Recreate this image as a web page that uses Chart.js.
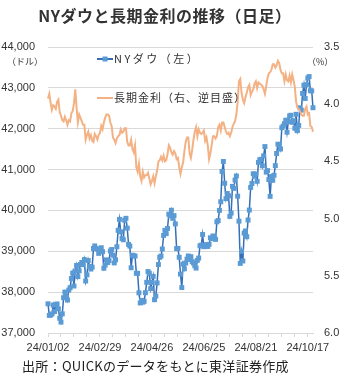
<!DOCTYPE html>
<html lang="ja">
<head>
<meta charset="UTF-8">
<title>NYダウと長期金利の推移（日足）</title>
<script src="https://cdn.jsdelivr.net/npm/chart.js"></script>
<style>
    body { margin: 0; background: #ffffff; }
    .wrap { position: relative; width: 340px; height: 384px; }
    .title {
        position: absolute; left: 0; top: 5px; width: 330px;
        text-align: center; font: bold 16px/20px 'Noto Sans CJK JP', sans-serif; color: #333333;
        letter-spacing: 0.5px;
    }
    .source {
        position: absolute; left: 22px; top: 357px;
        font: 13px/17px 'Noto Sans CJK JP', sans-serif; color: #222222;
        letter-spacing: 0.3px;
    }
    canvas { position: absolute; left: 0; top: 0; }
</style>
</head>
<body>
<div class="wrap">
    <canvas id="chart" width="340" height="384"></canvas>
    <div class="title">NYダウと長期金利の推移（日足）</div>
    <div class="source">出所：QUICKのデータをもとに東洋証券作成</div>
</div>

<script>
    // x = trading-day index from 2024/01/02; a label every 40 days
    const xLabels = ['24/01/02', '24/02/29', '24/04/26', '24/06/25', '24/08/21', '24/10/17'];
    const labelEvery = 40;

    // NYダウ終値 (ドル), by month
    const dowJan = [37715, 37431, 37440, 37466, 37683, 37526, 37696, 37711, 37593, 37361, 37267, 37469, 37864, 38001, 37906, 37807, 38050, 38109, 38333, 38467, 38150];
    const dowFeb = [38520, 38654, 38380, 38521, 38677, 38726, 38672, 38797, 38273, 38424, 38773, 38628, 38564, 38612, 39069, 39131, 39069, 39053, 38949, 38996];
    const dowMar = [39087, 38990, 38585, 38661, 38791, 38723, 38770, 39006, 39043, 38906, 38715, 38790, 39111, 39512, 39781, 39476, 39314, 39282, 39760, 39807];
    const dowApr = [39567, 39170, 39127, 38597, 38904, 38892, 38883, 38462, 38459, 37983, 37735, 37799, 37753, 37775, 37986, 38240, 38504, 38461, 38086, 38240, 38386, 37816];
    const dowMay = [37903, 38226, 38676, 38852, 38884, 39056, 39388, 39513, 39432, 39558, 39908, 39869, 40004, 39807, 39873, 39671, 39065, 39070, 38853, 38441, 38112, 38686];
    const dowJun = [38571, 38711, 38807, 38886, 38799, 38868, 38747, 38712, 38647, 38589, 38778, 38834, 39134, 39150, 39411, 39112, 39127, 39164, 39118];
    const dowJul = [39170, 39331, 39308, 39375, 39344, 39291, 39721, 39753, 40001, 40212, 40954, 41198, 40665, 40288, 40415, 40358, 39854, 39935, 40589, 40540, 40743, 40843];
    const dowAug = [40348, 39737, 38703, 38998, 38763, 39446, 39498, 39357, 39765, 40009, 40563, 40660, 40897, 40835, 40891, 40713, 41175, 41240, 41251, 41092, 41336, 41563];
    const dowSep = [40937, 40975, 40756, 40345, 40830, 40737, 40861, 41097, 41394, 41622, 41606, 41503, 42025, 42063, 42124, 42208, 41915, 42175, 42313, 42330];
    const dowOct = [42156, 42197, 42012, 42353, 41954, 42080, 42512, 42454, 42864, 43065, 42740, 43077, 43239, 43276, 42931, 42925, 42514];

    // 米10年債利回り (%), by month
    const ylJan = [3.95, 3.91, 3.99, 4.05, 4.01, 4.02, 4.04, 3.98, 3.96, 4.07, 4.10, 4.14, 4.15, 4.11, 4.14, 4.18, 4.14, 4.15, 4.08, 4.06, 3.99];
    const ylFeb = [3.87, 4.03, 4.16, 4.09, 4.12, 4.15, 4.18, 4.18, 4.31, 4.27, 4.24, 4.30, 4.27, 4.32, 4.33, 4.26, 4.28, 4.31, 4.27, 4.25];
    const ylMar = [4.19, 4.22, 4.16, 4.12, 4.09, 4.09, 4.10, 4.16, 4.19, 4.29, 4.31, 4.34, 4.30, 4.28, 4.27, 4.22, 4.25, 4.24, 4.21, 4.21];
    const ylApr = [4.33, 4.36, 4.36, 4.31, 4.39, 4.42, 4.36, 4.55, 4.59, 4.52, 4.63, 4.67, 4.59, 4.64, 4.62, 4.62, 4.60, 4.65, 4.70, 4.67, 4.63, 4.69];
    const ylMay = [4.63, 4.58, 4.50, 4.49, 4.46, 4.49, 4.45, 4.50, 4.49, 4.44, 4.36, 4.38, 4.42, 4.44, 4.41, 4.43, 4.48, 4.47, 4.55, 4.61, 4.55, 4.51];
    const ylJun = [4.41, 4.33, 4.29, 4.29, 4.43, 4.47, 4.40, 4.31, 4.24, 4.20, 4.28, 4.22, 4.25, 4.26, 4.25, 4.23, 4.32, 4.29, 4.36];
    const ylJul = [4.48, 4.43, 4.36, 4.28, 4.28, 4.30, 4.28, 4.20, 4.18, 4.23, 4.16, 4.16, 4.20, 4.24, 4.26, 4.25, 4.28, 4.25, 4.20, 4.17, 4.15, 4.09];
    const ylAug = [3.98, 3.80, 3.78, 3.90, 3.96, 3.99, 3.94, 3.90, 3.85, 3.83, 3.92, 3.89, 3.87, 3.82, 3.80, 3.86, 3.81, 3.82, 3.83, 3.84, 3.87, 3.91];
    const ylSep = [3.84, 3.77, 3.73, 3.72, 3.70, 3.65, 3.65, 3.68, 3.66, 3.62, 3.64, 3.70, 3.73, 3.73, 3.80, 3.74, 3.79, 3.80, 3.75, 3.81];
    const ylOct = [3.74, 3.79, 3.85, 3.98, 4.03, 4.04, 4.06, 4.09, 4.10, 4.10, 4.04, 4.02, 4.09, 4.08, 4.19, 4.20, 4.24];

    const dow = [].concat(dowJan, dowFeb, dowMar, dowApr, dowMay, dowJun, dowJul, dowAug, dowSep, dowOct);
    const yld = [].concat(ylJan, ylFeb, ylMar, ylApr, ylMay, ylJun, ylJul, ylAug, ylSep, ylOct);

    const DOW_LINE = '#3470B8';
    const DOW_MARK = '#5B9BD5';
    const YLD_LINE = '#F4B183';
    const TEXT = '#333333';
    const GRID = '#D9D9D9';
    const JP = "'Noto Sans CJK JP', sans-serif";

    Chart.defaults.font.family = "'Liberation Sans', Arial, sans-serif";
    Chart.defaults.font.size = 11;
    Chart.defaults.color = TEXT;

    // legend and unit labels inside the plot
    const overlay = {
        id: 'overlay',
        afterDraw(chart) {
            const ctx = chart.ctx;
            ctx.save();
            ctx.lineWidth = 2;
            ctx.strokeStyle = DOW_LINE;
            ctx.beginPath(); ctx.moveTo(97, 59); ctx.lineTo(113, 59); ctx.stroke();
            ctx.fillStyle = DOW_MARK;
            ctx.fillRect(102.5, 56.5, 5, 5);
            ctx.strokeStyle = YLD_LINE;
            ctx.beginPath(); ctx.moveTo(97, 98); ctx.lineTo(113, 98); ctx.stroke();

            ctx.fillStyle = TEXT;
            ctx.textBaseline = 'middle';
            ctx.font = '11px ' + JP;
            ctx.letterSpacing = '2.5px';
            ctx.fillText('NYダウ（左）', 114, 59);
            ctx.letterSpacing = '1px';
            ctx.fillText('長期金利（右、逆目盛）', 114, 98);
            ctx.letterSpacing = '0px';
            ctx.font = '9px ' + JP;
            ctx.fillText('（ドル）', 7, 62);
            ctx.fillText('（%）', 307, 62);
            ctx.restore();
        }
    };

    new Chart(document.getElementById('chart'), {
        type: 'line',
        data: {
            datasets: [{
                label: '長期金利（右、逆目盛）',
                data: yld.map((v, i) => ({ x: i, y: v })),
                yAxisID: 'y2',
                borderColor: YLD_LINE,
                borderWidth: 2,
                pointRadius: 0,
                tension: 0,
                clip: false,
                order: 0
            }, {
                label: 'NYダウ（左）',
                data: dow.map((v, i) => ({ x: i, y: v })),
                yAxisID: 'y',
                borderColor: DOW_LINE,
                borderWidth: 1.5,
                pointStyle: 'rect',
                pointRadius: 3.5,
                pointBackgroundColor: DOW_MARK,
                pointBorderColor: DOW_MARK,
                pointBorderWidth: 0,
                tension: 0,
                clip: false,
                order: 1
            }]
        },
        options: {
            responsive: false,
            animation: false,
            devicePixelRatio: 1,
            layout: { padding: { top: 47, left: 0, right: 0, bottom: 0 } },
            plugins: {
                legend: { display: false },
                tooltip: { enabled: false }
            },
            scales: {
                x: {
                    type: 'linear',
                    min: 0,
                    max: dow.length - 1,
                    afterFit: (s) => { s.height = 51; },
                    border: { display: true, color: GRID },
                    grid: { drawOnChartArea: false, drawTicks: true, tickLength: 4, color: GRID },
                    ticks: {
                        stepSize: 10,
                        includeBounds: false,
                        autoSkip: false,
                        maxRotation: 0,
                        padding: 4,
                        callback: (v) => (v % labelEvery === 0 ? xLabels[v / labelEvery] : '')
                    }
                },
                y: {
                    position: 'left',
                    min: 37000,
                    max: 44000,
                    afterFit: (s) => { s.width = 48; },
                    border: { display: false },
                    grid: { color: GRID, drawTicks: false },
                    ticks: {
                        stepSize: 1000,
                        padding: 13,
                        callback: (v) => v.toLocaleString('en-US')
                    }
                },
                y2: {
                    position: 'right',
                    reverse: true,
                    min: 3.5,
                    max: 6.0,
                    afterFit: (s) => { s.width = 27; },
                    border: { display: false },
                    grid: { display: false, drawTicks: false },
                    ticks: {
                        stepSize: 0.5,
                        padding: 11,
                        callback: (v) => v.toFixed(1)
                    }
                }
            }
        },
        plugins: [overlay]
    });
</script>
</body>
</html>
